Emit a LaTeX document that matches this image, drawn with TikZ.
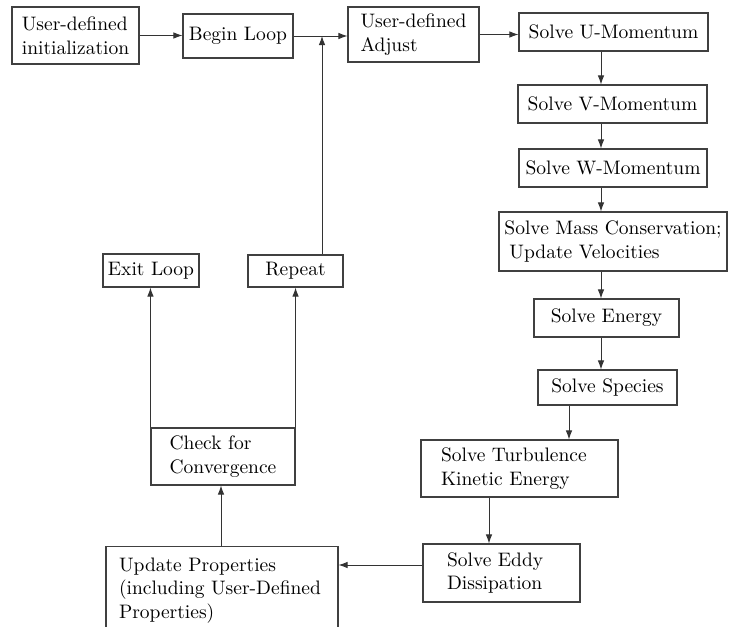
\documentclass[tikz,border=0pt]{standalone}
\usepackage{fontspec}
\setmainfont{lmroman10-regular.otf}
\usetikzlibrary{arrows.meta, positioning, calc}
\tikzset{
    block/.style={draw=black!75, rectangle, line width=1.1pt, fill=white, align=left, inner sep=0pt, font=\fontsize{19.5}{23.5}\selectfont},
    arrow/.style={draw=black!80, -{Latex[length=9pt, width=6.5pt]}, line width=0.9pt}
}
\begin{document}
\begin{tikzpicture}[x=1pt, y=-1pt]
    \clip (0,0) rectangle (729,627);

    % top row
    \node [block, minimum width=127, minimum height=57] (init) at (75.5,35.5) {User-defined\\initialization};
    \node [block, align=center, minimum width=110, minimum height=44] (begin) at (238,36) {Begin Loop};
    \node [block, minimum width=131, minimum height=55] (adjust) at (413.5,34.5) {User-defined\\Adjust};

    % solver column
    \node [block, align=center, minimum width=189, minimum height=38] (umom) at (613.5,32) {Solve U-Momentum};
    \node [block, align=center, minimum width=189, minimum height=38] (vmom) at (612.5,104) {Solve V-Momentum};
    \node [block, align=center, minimum width=188, minimum height=38] (wmom) at (613,168) {Solve W-Momentum};
    \node [block, minimum width=228, minimum height=59] (mass) at (613,241.5) {Solve Mass Conservation;\\\hspace*{5pt}Update Velocities};
    \node [block, align=center, minimum width=145, minimum height=38] (energy) at (606.5,318) {Solve Energy};
    \node [block, align=center, minimum width=139, minimum height=35] (species) at (607.5,387.5) {Solve Species};
    \node [block, inner xsep=20, text width=157, minimum height=57] (turb) at (519.5,468.5) {Solve Turbulence\\Kinetic Energy};
    \node [block, inner xsep=24, text width=109, minimum height=58] (eddy) at (501.5,573) {Solve Eddy\\Dissipation};

    % loop control
    \node [block, anchor=north, inner xsep=13, inner ysep=11, text width=206] (update) at (222,546) {Update Properties\\(including User-Defined\\Properties)};
    \node [block, minimum width=144, minimum height=57] (check) at (223,456.5) {Check for\\Convergence};
    \node [block, align=center, minimum width=96, minimum height=33] (exitl) at (151,270.5) {Exit Loop};
    \node [block, align=center, minimum width=95, minimum height=32] (rep) at (295.5,271) {Repeat};

    \coordinate (jn) at (322,36);
    \coordinate (cx) at (601,0);
    \coordinate (sx) at (569,0);
    \coordinate (tx) at (489,0);
    \coordinate (ux) at (221,0);

    \draw [arrow] (init.east) -- (init.east -| begin.west);
    \draw [arrow] (begin.east) -- (begin.east -| adjust.west);
    \draw [arrow] (adjust.east) -- (adjust.east -| umom.west);
    \draw [arrow] (umom.south -| cx) -- (vmom.north -| cx);
    \draw [arrow] (vmom.south -| cx) -- (wmom.north -| cx);
    \draw [arrow] (wmom.south -| cx) -- (mass.north -| cx);
    \draw [arrow] (mass.south -| cx) -- (energy.north -| cx);
    \draw [arrow] (energy.south -| cx) -- (species.north -| cx);
    \draw [arrow] (species.south -| sx) -- (turb.north -| sx);
    \draw [arrow] (turb.south -| tx) -- (eddy.north -| tx);
    \draw [arrow] ([yshift=8]eddy.west) -- ([yshift=8]eddy.west -| update.east);
    \draw [arrow] (update.north -| ux) -- (check.south -| ux);
    \draw [arrow] (check.north west) -- (check.north west |- exitl.south);
    \draw [arrow] (check.north east) -- (check.north east |- rep.south);
    \draw [arrow] (jn |- rep.north) -- (jn);
\end{tikzpicture}
\end{document}
